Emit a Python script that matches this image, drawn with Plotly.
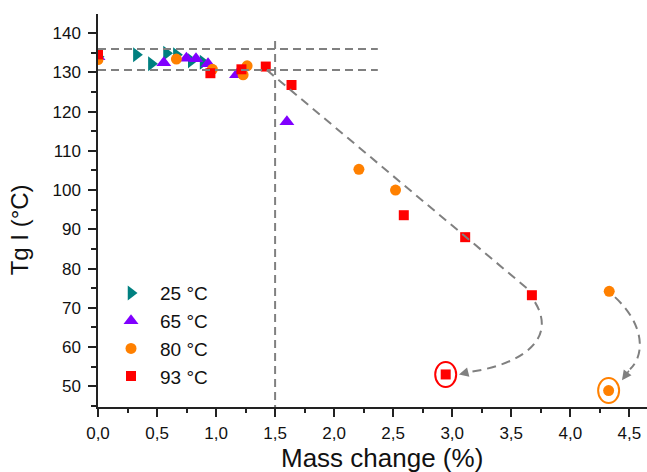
import plotly.graph_objects as go

# Tg I versus mass change for four ageing temperatures
x_25 = [0.0, 0.325, 0.452, 0.58, 0.664, 0.79, 0.89]
y_25 = [134.0, 134.5, 132.2, 134.9, 134.5, 133.0, 132.6]

x_65 = [0.0, 0.557, 0.749, 0.83, 0.932, 1.173, 1.60]
y_65 = [134.0, 132.5, 133.6, 133.5, 132.2, 129.4, 117.4]

x_80 = [0.0, 0.664, 0.969, 1.229, 1.263, 2.21, 2.52, 4.33, 4.325]
y_80 = [133.3, 133.4, 130.8, 129.4, 131.7, 105.3, 100.0, 74.2, 48.9]

x_93 = [0.0, 0.952, 1.215, 1.421, 1.639, 2.59, 3.11, 3.675, 2.945]
y_93 = [134.6, 129.8, 130.8, 131.5, 126.8, 93.6, 88.0, 73.2, 53.0]

series_names = ["25 °C", "65 °C", "80 °C", "93 °C"]
series_colors = ["#008080", "#8000FF", "#FF8000", "#FF0000"]
series_symbols = ["triangle-right", "triangle-up", "circle", "square"]
series_sizes = [13, 13, 11, 10]

x_tickvals = [0.0, 0.5, 1.0, 1.5, 2.0, 2.5, 3.0, 3.5, 4.0, 4.5]
x_ticktext = ["0,0", "0,5", "1,0", "1,5", "2,0", "2,5", "3,0", "3,5", "4,0", "4,5"]
y_tickvals = [50, 60, 70, 80, 90, 100, 110, 120, 130, 140]

# guide lines (data units)
band_upper, band_lower, band_end = 136.0, 130.6, 2.37
limit_x, limit_top = 1.5, 138.0
trend_start = (1.43, 130.6)
trend_end = (3.66, 74.3)
# curved arrows: bezier control points and arrow tips
curve_93 = [(3.701, 71.44), (3.896, 61.74), (3.574, 55.36), (3.133, 53.57)]
tip_93 = (3.057, 53.0)
curve_80 = [(4.379, 72.71), (4.633, 65.57), (4.633, 57.91), (4.506, 54.34)]
tip_80 = (4.438, 51.53)

GREY = "#808080"
FONT = "Liberation Sans, Arial, sans-serif"

fig = go.Figure()
for xs, ys, name, col, sym, sz in zip(
    [x_25, x_65, x_80, x_93], [y_25, y_65, y_80, y_93],
    series_names, series_colors, series_symbols, series_sizes,
):
    fig.add_trace(go.Scatter(
        x=xs, y=ys, mode="markers", name=name, cliponaxis=True,
        marker=dict(symbol=sym, color=col, size=sz, line=dict(width=0)),
    ))

dash_line = dict(color=GREY, width=2, dash="8px,5px")
shapes = [
    dict(type="line", xref="x", yref="y", x0=0, x1=band_end, y0=band_upper, y1=band_upper, line=dash_line, layer="above"),
    dict(type="line", xref="x", yref="y", x0=0, x1=band_end, y0=band_lower, y1=band_lower, line=dash_line, layer="above"),
    dict(type="line", xref="x", yref="y", x0=limit_x, x1=limit_x, y0=limit_top, y1=44.7, line=dash_line, layer="above"),
    dict(type="line", xref="x", yref="y", x0=trend_start[0], y0=trend_start[1],
         x1=trend_end[0], y1=trend_end[1], line=dict(color=GREY, width=2, dash="9px,6px"), layer="above"),
]


def bezier_path(pts):
    (a, b), (c, d), (e, f), (g, h) = pts
    return f"M {a},{b} C {c},{d} {e},{f} {g},{h}"


for pts in (curve_93, curve_80):
    shapes.append(dict(type="path", xref="x", yref="y", path=bezier_path(pts),
                       line=dict(color=GREY, width=2, dash="9px,6px"), layer="above"))

# rings around the final points
for (cx, cy), col in (((x_93[-1], y_93[-1]), "#FF0000"), ((x_80[-1], y_80[-1]), "#FF8000")):
    shapes.append(dict(type="circle", xref="x", yref="y", xsizemode="pixel", ysizemode="pixel",
                       xanchor=cx, yanchor=cy, x0=-10.5, x1=10.5, y0=-12.5, y1=12.5,
                       line=dict(color=col, width=2)))

annotations = []
for tip, pts in ((tip_93, curve_93), (tip_80, curve_80)):
    annotations.append(dict(x=tip[0], y=tip[1], ax=pts[-1][0], ay=pts[-1][1],
                            xref="x", yref="y", axref="x", ayref="y", text="",
                            showarrow=True, arrowhead=2, arrowsize=1.2, arrowwidth=1.6,
                            arrowcolor=GREY, standoff=0))

annotations.append(dict(text="Mass change (%)", xref="paper", yref="paper", x=0.517, y=-0.131,
                        xanchor="center", yanchor="middle", showarrow=False,
                        font=dict(family=FONT, size=26, color="#111")))
annotations.append(dict(text="Tg I (°C)", xref="paper", yref="paper", x=-0.1435, y=0.45,
                        xanchor="center", yanchor="middle", showarrow=False, textangle=-90,
                        font=dict(family=FONT, size=24, color="#111")))

axis_common = dict(showgrid=False, zeroline=False, showline=True, linecolor="#222", linewidth=1.5,
                   ticks="outside", ticklen=8, tickwidth=1.5, tickcolor="#222",
                   tickfont=dict(family=FONT, size=17, color="#111"), mirror=False)

fig.update_layout(
    width=647, height=472,
    margin=dict(l=98, r=0, t=14, b=65),
    plot_bgcolor="white", paper_bgcolor="white",
    shapes=shapes, annotations=annotations,
    showlegend=True,
    legend=dict(x=0.0073, y=0.338, xanchor="left", yanchor="top", bgcolor="rgba(0,0,0,0)",
                font=dict(family=FONT, size=19, color="#111"), itemwidth=48,
                tracegroupgap=0),
    xaxis=dict(range=[0, 4.65], tickmode="array", tickvals=x_tickvals, ticktext=x_ticktext,
               ticklabelstandoff=2,
               minor=dict(ticks="outside", ticklen=4, tickwidth=1.5, tickcolor="#222",
                          tickmode="linear", tick0=0, dtick=0.25),
               **axis_common),
    yaxis=dict(range=[44.7, 144.9], tickmode="array", tickvals=y_tickvals,
               ticklabelstandoff=4,
               minor=dict(ticks="outside", ticklen=5, tickwidth=1.5, tickcolor="#222",
                          tickmode="linear", tick0=0, dtick=5),
               **axis_common),
)

fig.write_html("out.html")
